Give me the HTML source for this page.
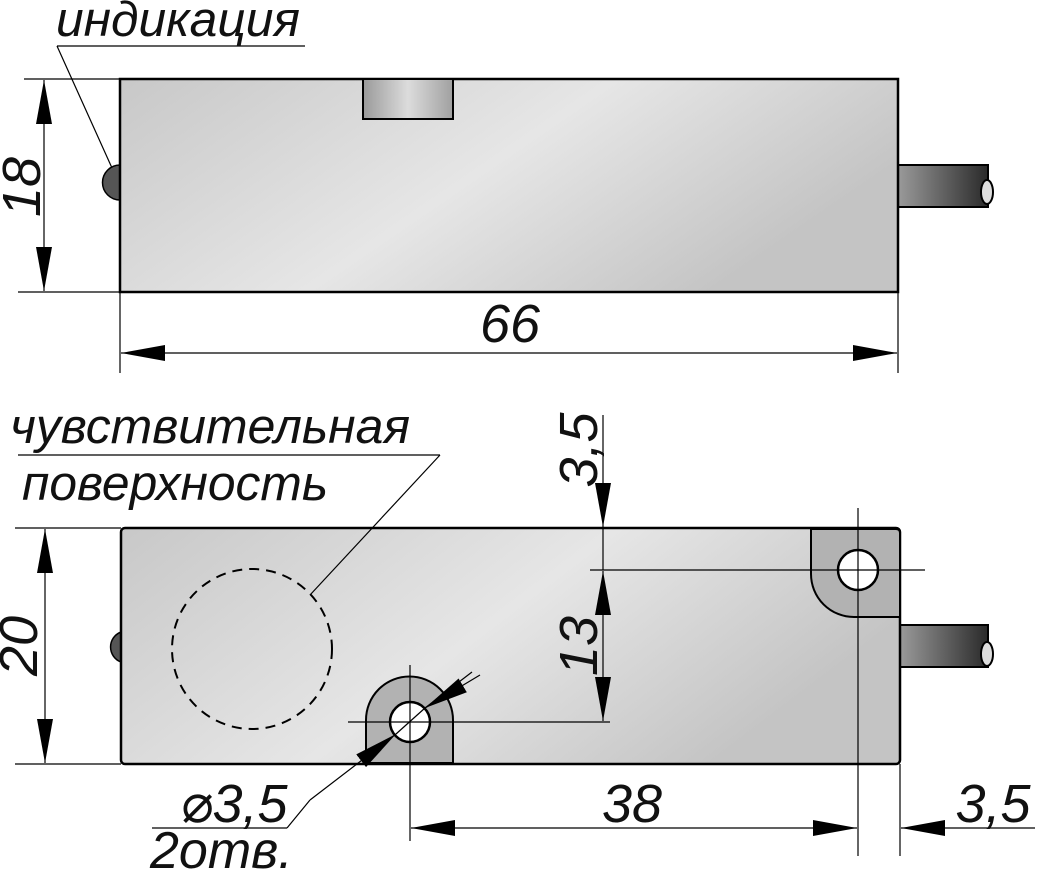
<!DOCTYPE html>
<html><head><meta charset="utf-8"><style>
html,body{margin:0;padding:0;background:#fff;}
svg{display:block;}
text{font-family:"Liberation Sans","DejaVu Sans",sans-serif;font-style:italic;fill:#111;}
</style></head><body>
<svg width="1039" height="871" viewBox="0 0 1039 871" xmlns="http://www.w3.org/2000/svg">
<defs>
<linearGradient id="body" x1="0" y1="0" x2="1" y2="0.4">
<stop offset="0" stop-color="#c8c8c8"/><stop offset="0.55" stop-color="#e6e6e6"/><stop offset="1" stop-color="#c4c4c4"/>
</linearGradient>
<linearGradient id="notch" x1="0" y1="0" x2="1" y2="0">
<stop offset="0" stop-color="#9a9a9a"/><stop offset="0.5" stop-color="#dcdcdc"/><stop offset="1" stop-color="#a0a0a0"/>
</linearGradient>
<linearGradient id="cable" x1="0" y1="0" x2="1" y2="0">
<stop offset="0" stop-color="#9a9a9a"/><stop offset="1" stop-color="#2a2a2a"/>
</linearGradient>
<marker id="a" viewBox="0 0 44 16" refX="44" refY="8" markerWidth="44" markerHeight="16" markerUnits="userSpaceOnUse" orient="auto"><path d="M0,0 L44,8 L0,16 Z" fill="#000"/></marker>
</defs>
<g stroke="#000" stroke-width="1.2" fill="none">
<line x1="57" y1="46" x2="305" y2="46"/>
<line x1="57" y1="46" x2="112" y2="168"/>
<line x1="24" y1="79" x2="120" y2="79"/>
<line x1="18" y1="292" x2="120" y2="292"/>
<line x1="44" y1="185" x2="44" y2="80" marker-end="url(#a)"/>
<line x1="44" y1="185" x2="44" y2="291" marker-end="url(#a)"/>
<line x1="120" y1="292" x2="120" y2="373"/>
<line x1="898" y1="292" x2="898" y2="373"/>
<line x1="510" y1="353" x2="121" y2="353" marker-end="url(#a)"/>
<line x1="510" y1="353" x2="897" y2="353" marker-end="url(#a)"/>
</g>
<path d="M120,165 A17,17 0 0 0 120,200 Z" fill="#555" stroke="#000" stroke-width="1.5"/>
<rect x="898" y="165" width="90" height="42" fill="url(#cable)" stroke="#000" stroke-width="2"/>
<ellipse cx="987" cy="192" rx="6" ry="12" fill="#ddd" stroke="#000" stroke-width="2"/>
<rect x="120" y="79" width="778" height="213" fill="url(#body)" stroke="#000" stroke-width="2.5"/>
<rect x="363" y="79" width="90" height="40" fill="url(#notch)" stroke="#000" stroke-width="2"/>
<text x="56" y="36" font-size="49" textLength="244" lengthAdjust="spacingAndGlyphs">индикация</text>
<text transform="translate(40,187) rotate(-90)" font-size="54" text-anchor="middle">18</text>
<text x="510" y="342" font-size="54" text-anchor="middle">66</text>

<text x="10" y="443" font-size="49" textLength="400" lengthAdjust="spacingAndGlyphs">чувствительная</text>
<text x="22" y="500" font-size="49" textLength="306" lengthAdjust="spacingAndGlyphs">поверхность</text>
<g stroke="#000" stroke-width="1.2" fill="none">
<line x1="18" y1="455" x2="440" y2="455"/>
<line x1="15" y1="528" x2="121" y2="528"/>
<line x1="15" y1="764" x2="121" y2="764"/>
<line x1="45" y1="646" x2="45" y2="529" marker-end="url(#a)"/>
<line x1="45" y1="646" x2="45" y2="763" marker-end="url(#a)"/>
</g>
<path d="M121,632 A16,16 0 0 0 121,662 Z" fill="#555" stroke="#000" stroke-width="1.5"/>
<rect x="900" y="625" width="88" height="42" fill="url(#cable)" stroke="#000" stroke-width="2"/>
<ellipse cx="987" cy="654" rx="6" ry="12" fill="#ddd" stroke="#000" stroke-width="2"/>
<rect x="121" y="528" width="779" height="236" rx="4" fill="url(#body)" stroke="#000" stroke-width="2.5"/>
<path d="M811,529 L896,529 Q900,529 900,533 L900,617 L854,617 A43,43 0 0 1 811,574 Z" fill="#b2b2b2" stroke="#000" stroke-width="2"/>
<path d="M366,763 L366,720 A43.5,43.5 0 0 1 453,720 L453,763 Z" fill="#b2b2b2" stroke="#000" stroke-width="2"/>
<circle cx="858" cy="570" r="20" fill="#fff" stroke="#000" stroke-width="2.5"/>
<circle cx="410" cy="722" r="20" fill="#fff" stroke="#000" stroke-width="2.5"/>
<circle cx="252" cy="649" r="80" fill="none" stroke="#000" stroke-width="2" stroke-dasharray="10,7"/>
<g stroke="#000" stroke-width="1.2" fill="none">
<line x1="440" y1="455" x2="310" y2="595"/>
<line x1="858" y1="508" x2="858" y2="856"/>
<line x1="410" y1="665" x2="410" y2="841"/>
<line x1="900" y1="764" x2="900" y2="856"/>
<line x1="590" y1="570" x2="925" y2="570"/>
<line x1="348" y1="722" x2="610" y2="722"/>
<line x1="603" y1="415" x2="603" y2="527" marker-end="url(#a)"/>
<line x1="603" y1="527" x2="603" y2="570"/>
<line x1="603" y1="646" x2="603" y2="571" marker-end="url(#a)"/>
<line x1="603" y1="646" x2="603" y2="721" marker-end="url(#a)"/>
<line x1="632" y1="828" x2="411" y2="828" marker-end="url(#a)"/>
<line x1="632" y1="828" x2="857" y2="828" marker-end="url(#a)"/>
<line x1="1035" y1="828" x2="901" y2="828" marker-end="url(#a)"/>
<line x1="472" y1="672" x2="425" y2="708"/>
<line x1="480" y1="675" x2="425" y2="708" marker-end="url(#a)"/>
<line x1="310" y1="800" x2="396" y2="734" marker-end="url(#a)"/>
<line x1="396" y1="734" x2="425" y2="708"/>
<line x1="310" y1="800" x2="287" y2="828"/>
<line x1="287" y1="828" x2="152" y2="828"/>
</g>
<text transform="translate(597,450) rotate(-90)" font-size="54" text-anchor="middle">3,5</text>
<text transform="translate(597,646) rotate(-90)" font-size="54" text-anchor="middle">13</text>
<text transform="translate(37,646) rotate(-90)" font-size="54" text-anchor="middle">20</text>
<text x="632" y="822" font-size="54" text-anchor="middle">38</text>
<text x="993" y="822" font-size="54" text-anchor="middle">3,5</text>
<text x="180" y="822" font-size="54">⌀3,5</text>
<text x="150" y="868" font-size="52">2отв.</text>
</svg>
</body></html>
